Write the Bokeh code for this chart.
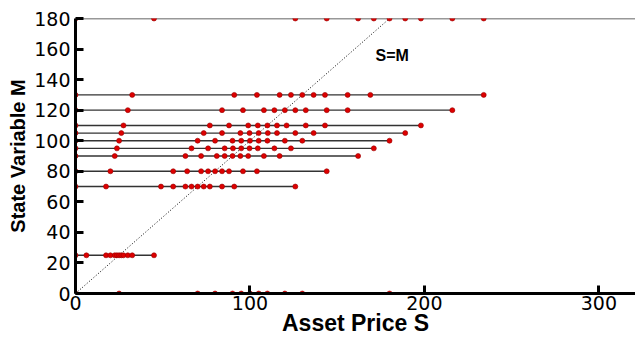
from bokeh.plotting import figure
from bokeh.models import Range1d, FixedTicker, Label
from bokeh.embed import file_html
from bokeh.resources import INLINE

# State variable levels (rows) and the asset-price nodes on each row
m_levels = [180, 130, 120, 110, 105, 100, 95, 90, 80, 70, 25, 0]
s_m180 = [0, 45, 126, 144, 162, 171, 180, 189, 198, 216, 234, 324]
s_m130 = [0, 32.5, 91, 104, 117, 123.5, 130, 136.5, 143, 156, 169, 234]
s_m120 = [0, 30, 84, 96, 108, 114, 120, 126, 132, 144, 156, 216]
s_m110 = [0, 27.5, 77, 88, 99, 104.5, 110, 115.5, 121, 132, 143, 198]
s_m105 = [0, 26.25, 73.5, 84, 94.5, 99.75, 105, 110.25, 115.5, 126, 136.5, 189]
s_m100 = [0, 25, 70, 80, 90, 95, 100, 105, 110, 120, 130, 180]
s_m95 = [0, 23.75, 66.5, 76, 85.5, 90.25, 95, 99.75, 104.5, 114, 123.5, 171]
s_m90 = [0, 22.5, 63, 72, 81, 85.5, 90, 94.5, 99, 108, 117, 162]
s_m80 = [0, 20, 56, 64, 72, 76, 80, 84, 88, 96, 104, 144]
s_m70 = [0, 17.5, 49, 56, 63, 66.5, 70, 73.5, 77, 84, 91, 126]
s_m25 = [0, 6.25, 17.5, 20, 22.5, 23.75, 25, 26.25, 27.5, 30, 32.5, 45]
s_m0 = [0, 25, 70, 80, 90, 95, 100, 105, 110, 120, 130, 180]
rows = [s_m180, s_m130, s_m120, s_m110, s_m105, s_m100, s_m95, s_m90,
        s_m80, s_m70, s_m25, s_m0]

diag_s = [0, 180]
diag_m = [0, 180]

x_ticks = [0, 100, 200, 300]
y_ticks = [0, 20, 40, 60, 80, 100, 120, 140, 160, 180]

FONT = "Liberation Sans"
TICK_FONT = "DejaVu Sans"

p = figure(width=635, height=338, x_range=Range1d(0, 321), y_range=Range1d(0, 180),
           output_backend="svg", toolbar_location=None,
           min_border_left=75, min_border_top=18, min_border_right=0, min_border_bottom=45)
p.outline_line_color = None
p.xgrid.visible = False
p.ygrid.visible = False
p.background_fill_color = "white"
p.border_fill_color = "white"

# Row segments
seg_x0, seg_x1, seg_y = [], [], []
for m, s in zip(m_levels, rows):
    if m == 0:
        continue
    seg_x0.append(s[0]); seg_x1.append(s[-1]); seg_y.append(m)
p.segment(x0=seg_x0, y0=seg_y, x1=seg_x1, y1=seg_y, line_color="#333333", line_width=1.4)

# S = M diagonal
p.line(diag_s, diag_m, line_color="black", line_width=1, line_dash="1 2")

# Nodes
px, py = [], []
for m, s in zip(m_levels, rows):
    for v in s:
        px.append(v); py.append(m)
p.scatter(px, py, size=5, fill_color="#dd0000", line_color="#990000", line_width=0.6)

p.add_layout(Label(x=172, y=156, text="S=M", text_font=FONT, text_font_size="16px",
                   text_font_style="bold", text_color="black",
                   text_baseline="middle", text_align="left"))

for ax, ticks in ((p.xaxis[0], x_ticks), (p.yaxis[0], y_ticks)):
    ax.ticker = FixedTicker(ticks=ticks)
    ax.axis_line_width = 3
    ax.axis_line_color = "black"
    ax.major_tick_line_width = 3
    ax.major_tick_line_color = "black"
    ax.major_tick_in = 8
    ax.major_tick_out = 0
    ax.minor_tick_line_color = None
    ax.major_label_text_font = TICK_FONT
    ax.major_label_text_font_size = "19px"
    ax.major_label_text_color = "black"
    ax.axis_label_text_font = FONT
    ax.axis_label_text_font_style = "bold"
    ax.axis_label_text_color = "black"

p.xaxis.axis_label = "Asset Price S"
p.yaxis.axis_label = "State Variable M"
p.xaxis.axis_label_text_font_size = "23px"
p.yaxis.axis_label_text_font_size = "20px"
p.xaxis.major_label_standoff = 2
p.xaxis.axis_label_standoff = -3
p.yaxis.major_label_standoff = 5
p.yaxis.axis_label_standoff = 2

open("out.html", "w").write(file_html(p, INLINE))
